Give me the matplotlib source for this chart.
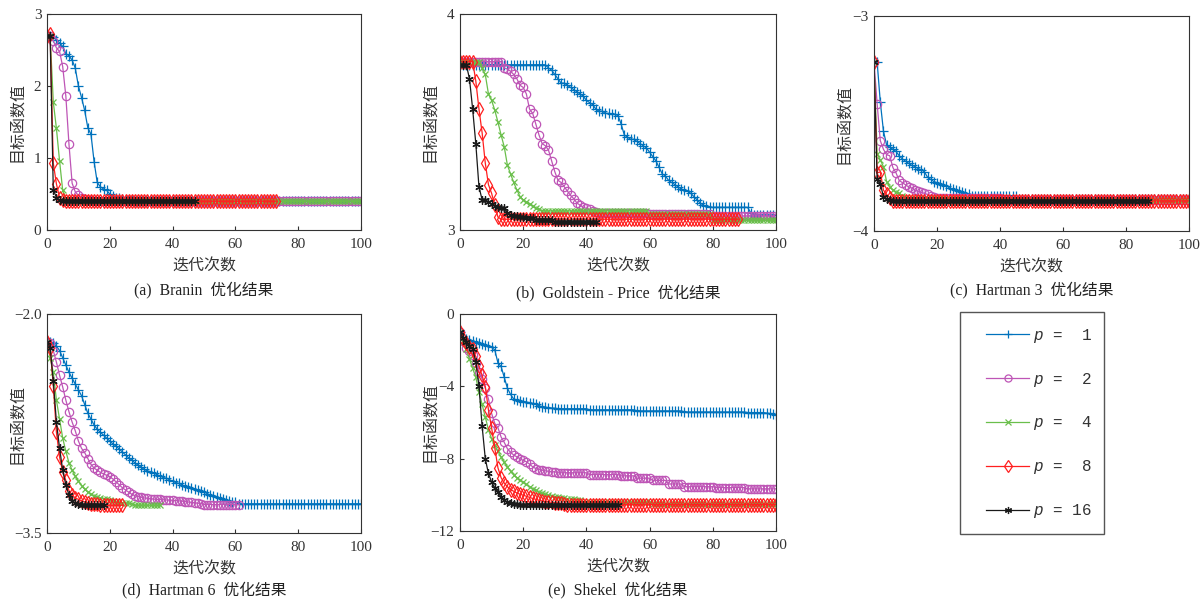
import matplotlib
matplotlib.use('Agg')
import matplotlib.pyplot as plt
from matplotlib.patches import Rectangle
from matplotlib.lines import Line2D

plt.rcParams['font.family'] = ['Liberation Serif', 'Noto Sans CJK SC']
plt.rcParams['mathtext.fontset'] = 'custom'
plt.rcParams['mathtext.it'] = 'Liberation Mono:italic'
plt.rcParams['mathtext.rm'] = 'Liberation Mono'
plt.rcParams['axes.unicode_minus'] = True

# ---------------- data (objective value per iteration) ----------------
series_labels = ['$p$ =  1', '$p$ =  2', '$p$ =  4', '$p$ =  8', '$p$ = 16']
x_label = '迭代次数'
y_label = '目标函数值'
captions = ['(a)  Branin  优化结果', '(b)  Goldstein - Price  优化结果',
            '(c)  Hartman 3  优化结果', '(d)  Hartman 6  优化结果',
            '(e)  Shekel  优化结果']
x_ticks = [0, 20, 40, 60, 80, 100]

# (a) Branin
a_p1 = [2.70, 2.70, 2.68, 2.64, 2.60, 2.55, 2.45, 2.42, 2.36, 2.25, 2.00, 1.84,
        1.66, 1.42, 1.33, 0.95, 0.66, 0.60, 0.57, 0.55, 0.50, 0.47, 0.45, 0.44,
        0.43, 0.42, 0.41, 0.41] + [0.40] * 73
a_p2 = [2.70, 2.70, 2.63, 2.53, 2.48, 2.27, 1.86, 1.19, 0.65, 0.53, 0.48, 0.45,
        0.43, 0.42, 0.41] + [0.40] * 86
a_p4 = [2.70, 2.70, 1.78, 1.41, 0.96, 0.55, 0.45, 0.42, 0.41] + [0.40] * 92
a_p8 = [2.70, 2.72, 0.93, 0.64, 0.45, 0.41] + [0.40] * 68
a_p16 = [2.70, 2.70, 0.56, 0.45, 0.41] + [0.40] * 43
a_yticks = [0, 1, 2, 3]
a_yticklabels = ['0', '1', '2', '3']

# (b) Goldstein - Price
b_p1 = ([3.78] + [3.765] * 27 +
        [3.75, 3.74, 3.72, 3.70, 3.68, 3.68, 3.67, 3.66, 3.65, 3.64, 3.63, 3.62,
         3.60, 3.59, 3.58, 3.56, 3.55, 3.55, 3.54, 3.54, 3.535, 3.535, 3.53,
         3.49, 3.44, 3.43, 3.42, 3.42, 3.41, 3.40, 3.39, 3.38, 3.36, 3.34, 3.32,
         3.29, 3.26, 3.25, 3.23, 3.22, 3.21, 3.20, 3.19, 3.185, 3.18, 3.17,
         3.155, 3.14, 3.125, 3.115, 3.11] + [3.105] * 13 + [3.08] + [3.07] * 8)
b_p2 = ([3.78] * 14 +
        [3.75, 3.745, 3.735, 3.72, 3.70, 3.67, 3.66, 3.63, 3.56, 3.54, 3.49,
         3.44, 3.40, 3.39, 3.37, 3.32, 3.27, 3.23, 3.22, 3.20, 3.18, 3.16,
         3.145, 3.125, 3.115, 3.105, 3.10, 3.095, 3.09, 3.085] +
        [3.08] * 16 + [3.072] * 20 + [3.065] * 20 + [3.055])
b_p4 = ([3.78] * 7 +
        [3.75, 3.72, 3.63, 3.60, 3.555, 3.50, 3.44, 3.385, 3.30, 3.26, 3.22,
         3.185, 3.155, 3.14, 3.13, 3.12, 3.11, 3.10, 3.095, 3.09] +
        [3.088] * 33 + [3.075] * 20 + [3.045] * 21)
b_p8 = ([3.78] * 5 + [3.69, 3.56, 3.45, 3.31, 3.21, 3.17, 3.115, 3.06] +
        [3.05] * 76)
b_p16 = ([3.765] * 3 +
         [3.70, 3.56, 3.40, 3.20, 3.14, 3.14, 3.13, 3.12, 3.11, 3.105, 3.10,
          3.10, 3.08, 3.07, 3.065, 3.065, 3.06, 3.058, 3.055, 3.055, 3.054] +
         [3.045] * 6 + [3.035] * 14)
b_yticks = [3, 4]
b_yticklabels = ['3', '4']

# (c) Hartman 3
c_p1 = ([-3.215, -3.215, -3.40, -3.535, -3.60, -3.61, -3.62, -3.63, -3.65,
         -3.665, -3.675, -3.685, -3.695, -3.70, -3.71, -3.715, -3.725, -3.75,
         -3.76, -3.77, -3.775, -3.78, -3.785, -3.79, -3.80, -3.805, -3.81,
         -3.815, -3.82, -3.825, -3.83] + [-3.835] * 15 + [-3.85] * 55)
c_p2 = ([-3.215, -3.41, -3.58, -3.62, -3.645, -3.65, -3.705, -3.73, -3.765,
         -3.775, -3.785, -3.795, -3.80, -3.81, -3.815, -3.82, -3.825, -3.83,
         -3.835, -3.84] + [-3.845] * 21 + [-3.855] * 60)
c_p4 = ([-3.215, -3.64, -3.67, -3.70, -3.77, -3.795, -3.81, -3.82, -3.825,
         -3.835, -3.84] + [-3.85] * 20 + [-3.858] * 70)
c_p8 = [-3.215, -3.73, -3.725, -3.81, -3.83, -3.845] + [-3.86] * 95
c_p16 = [-3.215, -3.76, -3.78, -3.84, -3.85, -3.855] + [-3.86] * 82
c_yticks = [-4, -3]
c_yticklabels = ['\u22124', '\u22123']

# (d) Hartman 6
d_p1 = ([-2.19, -2.19, -2.20, -2.22, -2.25, -2.30, -2.35, -2.40, -2.44, -2.48,
         -2.52, -2.56, -2.62, -2.68, -2.72, -2.76, -2.79, -2.81, -2.83, -2.85,
         -2.87, -2.89, -2.905, -2.925, -2.945, -2.965, -2.985, -3.00, -3.02,
         -3.035, -3.05, -3.065, -3.075, -3.08, -3.09, -3.10, -3.11, -3.12,
         -3.125, -3.135, -3.145, -3.155, -3.16, -3.17, -3.18, -3.185, -3.19,
         -3.20, -3.205, -3.21, -3.22, -3.23, -3.24, -3.245, -3.25, -3.26,
         -3.265, -3.275, -3.28, -3.285, -3.29] + [-3.30] * 40)
d_p2 = ([-2.19, -2.20, -2.25, -2.33, -2.42, -2.50, -2.59, -2.67, -2.74, -2.80,
         -2.87, -2.92, -2.95, -2.99, -3.03, -3.055, -3.07, -3.085, -3.095,
         -3.105, -3.115, -3.13, -3.15, -3.17, -3.19, -3.205, -3.22, -3.235,
         -3.245, -3.25, -3.255, -3.26, -3.262, -3.265, -3.268, -3.27, -3.27,
         -3.272, -3.274, -3.275, -3.276, -3.278, -3.28, -3.282, -3.285,
         -3.288, -3.29, -3.293, -3.296, -3.298] + [-3.305] * 12)
d_p4 = ([-2.19, -2.30, -2.40, -2.59, -2.72, -2.85, -2.94, -3.02, -3.07, -3.11,
         -3.145, -3.175, -3.20, -3.22, -3.235, -3.245, -3.255, -3.26, -3.265,
         -3.27, -3.275, -3.28, -3.285, -3.29, -3.292, -3.295, -3.297, -3.30] +
        [-3.31] * 9)
d_p8 = ([-2.19, -2.23, -2.49, -2.81, -2.98, -3.08, -3.14, -3.21, -3.24, -3.26,
         -3.27, -3.28, -3.287, -3.293, -3.298, -3.30, -3.303, -3.305] +
        [-3.31] * 7)
d_p16 = ([-2.19, -2.23, -2.46, -2.74, -2.92, -3.07, -3.17, -3.24, -3.28,
          -3.295, -3.30, -3.305] + [-3.31] * 7)
d_yticks = [-3.5, -2.0]
d_yticklabels = ['\u22123.5', '\u22122.0']

# (e) Shekel
e_p1 = ([-1.00, -1.30, -1.40, -1.45, -1.52, -1.56, -1.62, -1.68, -1.72, -1.77,
         -1.85, -1.98, -2.70, -2.90, -3.50, -4.10, -4.45, -4.70, -4.75, -4.80,
         -4.84, -4.87, -4.90, -4.94, -5.00, -5.08, -5.12, -5.15, -5.18, -5.20,
         -5.21] + [-5.24] * 10 + [-5.30] * 15 + [-5.36] * 15 + [-5.42] * 20 +
        [-5.45] * 6 + [-5.48, -5.50, -5.53, -5.58])
e_p2 = ([-1.00, -1.50, -1.89, -2.05, -2.26, -2.70, -3.18, -3.60, -4.10, -4.70,
         -5.50, -6.05, -6.29, -6.80, -7.10, -7.45, -7.65, -7.80, -7.90, -8.00,
         -8.10, -8.17, -8.30, -8.45, -8.55, -8.60, -8.64, -8.67, -8.70, -8.72,
         -8.73] + [-8.78] * 10 + [-8.88] * 10 + [-8.95] * 5 + [-9.08] * 5 +
        [-9.20] * 5 + [-9.40] * 5 + [-9.55] * 10 + [-9.60] * 10 + [-9.67] * 10)
e_p4 = ([-1.00, -1.50, -1.95, -2.50, -3.00, -3.50, -4.30, -5.00, -5.70, -6.40,
         -6.90, -7.25, -7.60, -7.90, -8.20, -8.45, -8.70, -8.90, -9.05, -9.20,
         -9.30, -9.42, -9.55, -9.65, -9.75, -9.85, -9.92, -9.98, -10.02,
         -10.07, -10.10, -10.13, -10.16, -10.19, -10.21, -10.23, -10.25,
         -10.27, -10.29] + [-10.40] * 22 + [-10.50] * 40)
e_p8 = ([-1.00, -1.40, -1.61, -1.80, -1.95, -2.35, -2.90, -3.40, -4.01, -5.30,
         -6.30, -7.40, -8.50, -9.05, -9.35, -9.55, -9.72, -9.80, -9.90, -9.97,
         -10.02, -10.08, -10.14, -10.20, -10.25, -10.30, -10.34, -10.37,
         -10.39, -10.42, -10.44, -10.46, -10.47, -10.48] + [-10.54] * 67)
e_p16 = ([-1.00, -1.33, -1.55, -1.75, -1.95, -2.63, -4.00, -6.20, -8.00, -8.82,
          -9.30, -9.60, -9.84, -10.11, -10.30, -10.40, -10.45, -10.50, -10.52] +
         [-10.56] * 32)
e_yticks = [-12, -8, -4, 0]
e_yticklabels = ['\u221212', '\u22128', '\u22124', '0']

# ---------------- styling ----------------
colors = ['#0072BD', '#BE55B6', '#6ABF4B', '#FF1F1F', '#1A1A1A']
markers = ['+', 'o', 'x', 'd', (6, 2, 0)]
msizes = [6.5, 6, 4.5, 7.5, 6]
fig = plt.figure(figsize=(12.04, 5.99), dpi=100)
W, H = 1204.0, 599.0


def rect(l, r, t, b):
    return [l / W, 1 - b / H, (r - l) / W, (b - t) / H]


panels = [
    (rect(47, 361, 14, 230), [a_p1, a_p2, a_p4, a_p8, a_p16], a_yticks, a_yticklabels, (0, 3), 290),
    (rect(460, 776, 14, 230), [b_p1, b_p2, b_p4, b_p8, b_p16], b_yticks, b_yticklabels, (3, 4), 293),
    (rect(874, 1189, 16, 231), [c_p1, c_p2, c_p4, c_p8, c_p16], c_yticks, c_yticklabels, (-4, -3), 290),
    (rect(47, 361, 314, 533), [d_p1, d_p2, d_p4, d_p8, d_p16], d_yticks, d_yticklabels, (-3.5, -2.0), 590),
    (rect(460, 776, 314, 531), [e_p1, e_p2, e_p4, e_p8, e_p16], e_yticks, e_yticklabels, (-12, 0), 590),
]

tc = '#333333'
for i, (pos, series, yt, ytl, ylim, cap_y) in enumerate(panels):
    ax = fig.add_axes(pos)
    for j, ys in enumerate(series):
        xs = list(range(len(ys)))
        mfc = 'none' if markers[j] in ('o', 'd') else colors[j]
        ax.plot(xs, ys, color=colors[j], lw=0.9, marker=markers[j],
                ms=msizes[j], mfc=mfc, mec=colors[j], mew=0.9,
                label=series_labels[j])
    ax.set_xlim(0, 100)
    ax.set_ylim(*ylim)
    ax.set_xticks(x_ticks)
    ax.set_xticklabels([str(v) for v in x_ticks])
    ax.set_yticks(yt)
    ax.set_yticklabels(ytl)
    ax.tick_params(direction='in', length=3, width=0.8, colors=tc,
                   labelsize=11, pad=4)
    ax.tick_params(axis='x', pad=6)
    for s in ax.spines.values():
        s.set_color(tc)
        s.set_linewidth(0.8)
    ax.set_xlabel(x_label, fontsize=11.5, color=tc)
    ax.set_ylabel(y_label, fontsize=11.5, color=tc)
    axw = pos[2] * W
    axh = pos[3] * H
    ax.xaxis.set_label_coords(0.5, -29 / axh)
    ax.yaxis.set_label_coords(-22 / axw, 0.5)
    cx = pos[0] + pos[2] / 2
    fig.text(cx, 1 - cap_y / H, captions[i], ha='center', va='center',
             fontsize=11.3, color='#222222')

# legend
fig.patches.append(Rectangle((960 / W, 1 - 534 / H), 144 / W, 222 / H,
                             transform=fig.transFigure, fill=False,
                             ec='#555555', lw=1.0))
leg_handles = [Line2D([0], [0], color=colors[j], lw=0.9, marker=markers[j],
                      ms=msizes[j] * 0.85,
                      mfc='none' if markers[j] in ('o', 'd') else colors[j],
                      mec=colors[j], mew=0.9) for j in range(5)]
fig.legend(leg_handles, series_labels, loc='center',
           bbox_to_anchor=(1039 / W, 1 - 423.5 / H), frameon=False,
           prop={'family': 'Liberation Mono', 'size': 11.5},
           handlelength=2.7, handletextpad=0.25, labelspacing=1.62,
           labelcolor=tc)

fig.savefig('out.png', dpi=100)
